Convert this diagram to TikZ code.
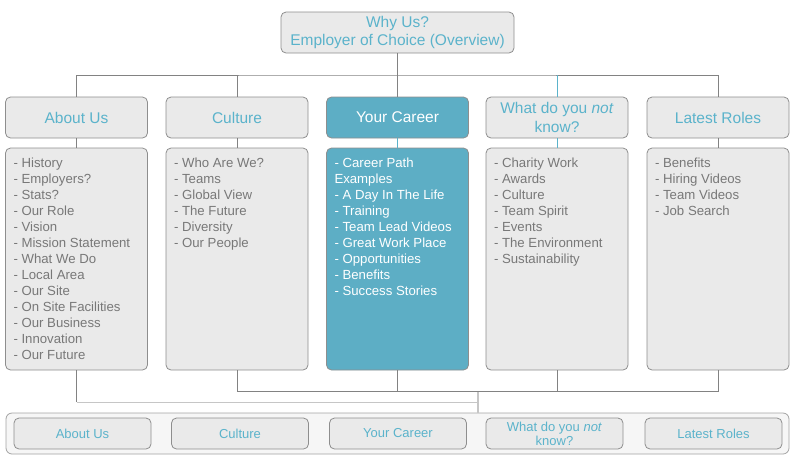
\documentclass[tikz,border=0pt]{standalone}
\usepackage{fontspec}
\setmainfont{Liberation Sans}
\usepackage{xcolor}
\usepackage{tikz}
\usetikzlibrary{positioning,calc}
\definecolor{WUTeal}    {HTML}{5BB3CB}
\definecolor{WUTealBox} {HTML}{5DAEC5}
\definecolor{WUFill}    {HTML}{EAEAEA}
\definecolor{WUEdge}    {HTML}{8E8E8E}
\definecolor{WUText}    {HTML}{787878}
\definecolor{WULink}    {HTML}{828282}
\definecolor{WUFaint}   {HTML}{C6C6C6}
\definecolor{WUBar}     {HTML}{F6F6F6}
\definecolor{WUBarEdge} {HTML}{A3A3A3}

\newcommand{\wuhead}{\fontsize{15.5}{18.5}\selectfont}
\newcommand{\wuitem}{\fontsize{13.2}{16}\selectfont}
\newcommand{\wubtn}{\fontsize{13}{14}\selectfont}
\newcommand{\wulist}[1]{\parbox[c][204pt][t]{126pt}{\raggedright\vspace*{1pt}#1}}

\tikzset{
  wubox/.style={draw=WUEdge,fill=WUFill,rounded corners=5pt,line width=0.8pt},
  topbox/.style={wubox,minimum width=233pt,minimum height=41pt,align=center,
                 font=\wuhead,text=WUTeal,inner sep=2pt},
  headbox/.style={wubox,minimum width=142pt,minimum height=41pt,align=center,
                  font=\wuhead,text=WUTeal,inner sep=2pt},
  listbox/.style={wubox,minimum width=142pt,minimum height=222pt,
                  inner xsep=8pt,inner ysep=9pt,font=\wuitem,text=WUText},
  navbar/.style={draw=WUBarEdge,fill=WUBar,rounded corners=6pt,line width=0.8pt,
                 minimum width=783pt,minimum height=41pt},
  navbtn/.style={wubox,minimum width=137pt,minimum height=31pt,align=center,
                 font=\wubtn,text=WUTeal,inner sep=1pt},
  link/.style={draw=WULink,line width=0.9pt},
  teallink/.style={draw=WUTeal,line width=0.9pt},
  faintlink/.style={draw=WUFaint,line width=1.6pt}
}

\begin{document}
\begin{tikzpicture}[x=1pt,y=-1pt]
    \useasboundingbox (0,0) rectangle (795,467);

    % Overview box
    \node[topbox] (why) at (397.5,32.5) {Why Us?\\Employer of Choice (Overview)};

    % Section headers
    \node[headbox] (about)   at (76.5,117.5)  {About Us};
    \node[headbox] (culture) at (237,117.5)   {Culture};
    \node[headbox,fill=WUTealBox,text=white] (career) at (397.5,117.5) {Your Career};
    \node[headbox] (whatnot) at (557,117.5)   {What do you \textit{not}\\know?};
    \node[headbox] (latest)  at (718,117.5)   {Latest Roles};

    % Section contents
    \node[listbox] (aboutlist) at (76.5,259) {\wulist{- History\\- Employers?\\- Stats?\\- Our Role\\- Vision\\- Mission Statement\\- What We Do\\- Local Area\\- Our Site\\- On Site Facilities\\- Our Business\\- Innovation\\- Our Future}};
    \node[listbox] (culturelist) at (237,259) {\wulist{- Who Are We?\\- Teams\\- Global View\\- The Future\\- Diversity\\- Our People}};
    \node[listbox,fill=WUTealBox,text=white] (careerlist) at (397.5,259) {\wulist{- Career Path\\Examples\\- A Day In The Life\\- Training\\- Team Lead Videos\\- Great Work Place\\- Opportunities\\- Benefits\\- Success Stories}};
    \node[listbox] (whatnotlist) at (557,259) {\wulist{- Charity Work\\- Awards\\- Culture\\- Team Spirit\\- Events\\- The Environment\\- Sustainability}};
    \node[listbox] (latestlist) at (718,259) {\wulist{- Benefits\\- Hiring Videos\\- Team Videos\\- Job Search}};

    % Navigation bar
    \node[navbar] (nav) at (397.5,433.5) {};
    \node[navbtn] (navabout)   at (82.5,433.5)  {About Us};
    \node[navbtn] (navculture) at (240,433.5)   {Culture};
    \node[navbtn] (navcareer)  at (398,433.5)   {Your Career};
    \node[navbtn] (navwhatnot) at (554.5,433.5) {What do you \textit{not}\\know?};
    \node[navbtn] (navlatest)  at (713.5,433.5) {Latest Roles};

    % Top tree
    \coordinate (bus) at (397.5,75);
    \draw[link] (why) -- (career);
    \draw[link] (about.north) |- (bus) -| (latest.north);
    \draw[link] (culture.north) -- (culture.north |- bus);
    \draw[teallink] (whatnot.north) -- (whatnot.north |- bus);

    % Header to contents
    \draw[link] (about) -- (aboutlist);
    \draw[link] (culture) -- (culturelist);
    \draw[teallink] (career) -- (careerlist);
    \draw[teallink] (whatnot) -- (whatnotlist);
    \draw[link] (latest) -- (latestlist);

    % Bottom tree
    \coordinate (lowbus) at (478,391);
    \draw[link] (aboutlist.south) -- ++(0,32) coordinate (aboutfoot);
    \draw[faintlink] (aboutfoot) -| (nav.north -| lowbus);
    \draw[faintlink] (lowbus) -- (nav.north -| lowbus);
    \draw[link] (culturelist.south) |- (lowbus) -| (latestlist.south);
    \draw[link] (careerlist.south) -- (careerlist.south |- lowbus);
    \draw[link] (whatnotlist.south) -- (whatnotlist.south |- lowbus);
\end{tikzpicture}
\end{document}
